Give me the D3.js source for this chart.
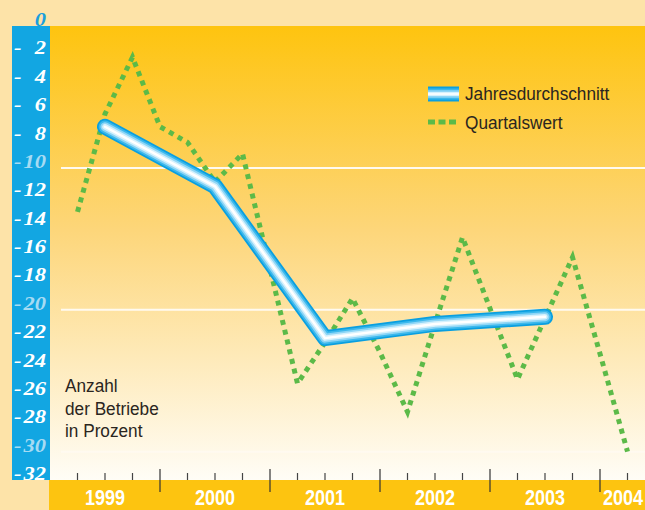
<!DOCTYPE html>
<html><head><meta charset="utf-8">
<script src="https://cdn.jsdelivr.net/npm/d3@7/dist/d3.min.js"></script>
<style>
html,body{margin:0;padding:0;background:#fde3a8;}
svg{display:block;}
</style></head>
<body>
<script>
// ---- data ----
const years = [1999, 2000, 2001, 2002, 2003, 2004];
const annualYears = [1999, 2000, 2001, 2002, 2003];
const annualValues = [-7.1, -11.3, -22.0, -21.0, -20.5];
const quarterYears = [1999,1999,1999,1999, 2000,2000,2000,2000, 2001,2001,2001,2001, 2002,2002,2002,2002, 2003,2003,2003,2003, 2004];
const quarterNums  = [1,2,3,4, 1,2,3,4, 1,2,3,4, 1,2,3,4, 1,2,3,4, 1];
const quarterValues = [-13.1, -6.2, -2.2, -7.1,
                       -8.2, -11.0, -9.0, -17.1,
                       -25.2, -22.3, -19.2, -23.0,
                       -27.2, -21.0, -14.9, -19.9,
                       -24.9, -20.6, -16.3, -23.1,
                       -30.0];
const yTicks = [0,-2,-4,-6,-8,-10,-12,-14,-16,-18,-20,-22,-24,-26,-28,-30,-32];
const gridValues = [-10, -20, -30];
const legendLabels = ["Jahresdurchschnitt", "Quartalswert"];
const noteLines = ["Anzahl", "der Betriebe", "in Prozent"];

// ---- layout ----
const W = 645, H = 510;
const plotL = 50, plotT = 26, plotB = 480;
const svg = d3.select("body").append("svg").attr("width", W).attr("height", H);

const x = d3.scaleLinear().domain([1999, 2005]).range([50, 710]);
const y = d3.scaleLinear().domain([0, -32]).range([plotT, plotB]);
const SANS = "'Liberation Sans',Arial,sans-serif";

const defs = svg.append("defs");
const grad = defs.append("linearGradient").attr("id","bg").attr("x1",0).attr("y1",0).attr("x2",0).attr("y2",1);
grad.append("stop").attr("offset","0%").attr("stop-color","#fec40f");
grad.append("stop").attr("offset","45%").attr("stop-color","#fdd67a");
grad.append("stop").attr("offset","100%").attr("stop-color","#fffdf6");

// page bg
svg.append("rect").attr("width",W).attr("height",H).attr("fill","#fde3a8");
// plot area
svg.append("rect").attr("x",plotL).attr("y",plotT).attr("width",W-plotL).attr("height",plotB-plotT).attr("fill","url(#bg)");
// blue strip
svg.append("rect").attr("x",12).attr("y",plotT).attr("width",plotL-12).attr("height",plotB-plotT).attr("fill","#12a6e2");
// year strip
svg.append("rect").attr("x",49).attr("y",plotB).attr("width",W-49).attr("height",H-plotB).attr("fill","#fdc410");

// grid lines
svg.append("g").selectAll("line").data(gridValues).join("line")
  .attr("x1",61).attr("x2",W).attr("y1",d=>y(d)).attr("y2",d=>y(d))
  .attr("stroke","#fffaf0").attr("stroke-width",2);

// y labels
const yl = svg.append("g").attr("font-family","'Liberation Serif','DejaVu Serif',serif")
  .attr("font-style","italic").attr("font-weight","bold").attr("font-size",18);
yTicks.forEach(v => {
  const faded = v !== 0 && v % 10 === 0;
  const col = v === 0 ? "#1a9fdc" : (faded ? "#a6dbf3" : "#ffffff");
  yl.append("text").attr("text-anchor","end")
    .attr("transform",`translate(46,${y(v)}) scale(1.25,1)`)
    .attr("fill",col).text(Math.abs(v));
  if (v !== 0) {
    yl.append("text").attr("transform",`translate(14,${y(v)}) scale(1.25,1)`)
      .attr("fill",col).text("-");
  }
});

// x ticks
const minorVals = [];
years.forEach(yr => [0.25,0.5,0.75].forEach(f => { if (x(yr+f) < W) minorVals.push(yr+f); }));
svg.append("g").selectAll("line").data(minorVals).join("line")
  .attr("x1",d=>x(d)).attr("x2",d=>x(d)).attr("y1",473).attr("y2",plotB)
  .attr("stroke","#444").attr("stroke-width",1.2);
const majorVals = years.slice(1).filter(v => x(v) < W);
svg.append("g").selectAll("line").data(majorVals).join("line")
  .attr("x1",d=>x(d)).attr("x2",d=>x(d)).attr("y1",469).attr("y2",492)
  .attr("stroke","#333").attr("stroke-width",1.2);

// year labels (last one pulled in so it stays visible)
svg.append("g").selectAll("text").data(years).join("text")
  .attr("transform",d=>`translate(${Math.min(x(d+0.5), 623)},505) scale(0.82,1)`)
  .attr("text-anchor","middle")
  .attr("font-family",SANS)
  .attr("font-weight","bold").attr("font-size",22).attr("fill","#ffffff")
  .text(d=>d);

// quarterly line
const qData = quarterValues.map((v,i)=>({x: quarterYears[i] + quarterNums[i]/4, v}));
const qLine = d3.line().x(d=>x(d.x)).y(d=>y(d.v));
svg.append("path").datum(qData).attr("d",qLine).attr("fill","none")
  .attr("stroke","#5cba48").attr("stroke-width",5).attr("stroke-dasharray","5,5");

// annual line
const aData = annualValues.map((v,i)=>({x: annualYears[i] + 0.5, v}));
const aLine = d3.line().x(d=>x(d.x)).y(d=>y(d.v));
const layers = [[16,"#0a9fe0"],[12.5,"#3bb8ec"],[9,"#8fd6f6"],[5.5,"#d6f1fc"],[2.5,"#ffffff"]];
layers.forEach(([w,c]) => {
  svg.append("path").datum(aData).attr("d",aLine).attr("fill","none")
    .attr("stroke",c).attr("stroke-width",w).attr("stroke-linecap","round").attr("stroke-linejoin","round");
});

// legend
const lg = svg.append("g");
[[15,"#0a9fe0"],[11,"#3bb8ec"],[7.5,"#8fd6f6"],[4,"#d6f1fc"],[1.5,"#ffffff"]].forEach(([w,c]) => {
  lg.append("line").attr("x1",428).attr("x2",459).attr("y1",94).attr("y2",94)
    .attr("stroke",c).attr("stroke-width",w);
});
lg.append("line").attr("x1",428).attr("x2",456).attr("y1",122).attr("y2",122)
  .attr("stroke","#5cba48").attr("stroke-width",5).attr("stroke-dasharray","7,3.5");
lg.selectAll("text").data(legendLabels).join("text")
  .attr("transform",(d,i)=>`translate(465,${100 + i*29}) scale(0.93,1)`)
  .attr("font-family",SANS)
  .attr("font-size",18.5).attr("fill","#2a2520").text(d=>d);

// note
svg.append("g").selectAll("text").data(noteLines).join("text")
  .attr("transform",(d,i)=>`translate(65,${392 + i*22.5}) scale(0.93,1)`)
  .attr("font-family",SANS)
  .attr("font-size",18.5).attr("fill","#2a2520").text(d=>d);
</script>
</body></html>
